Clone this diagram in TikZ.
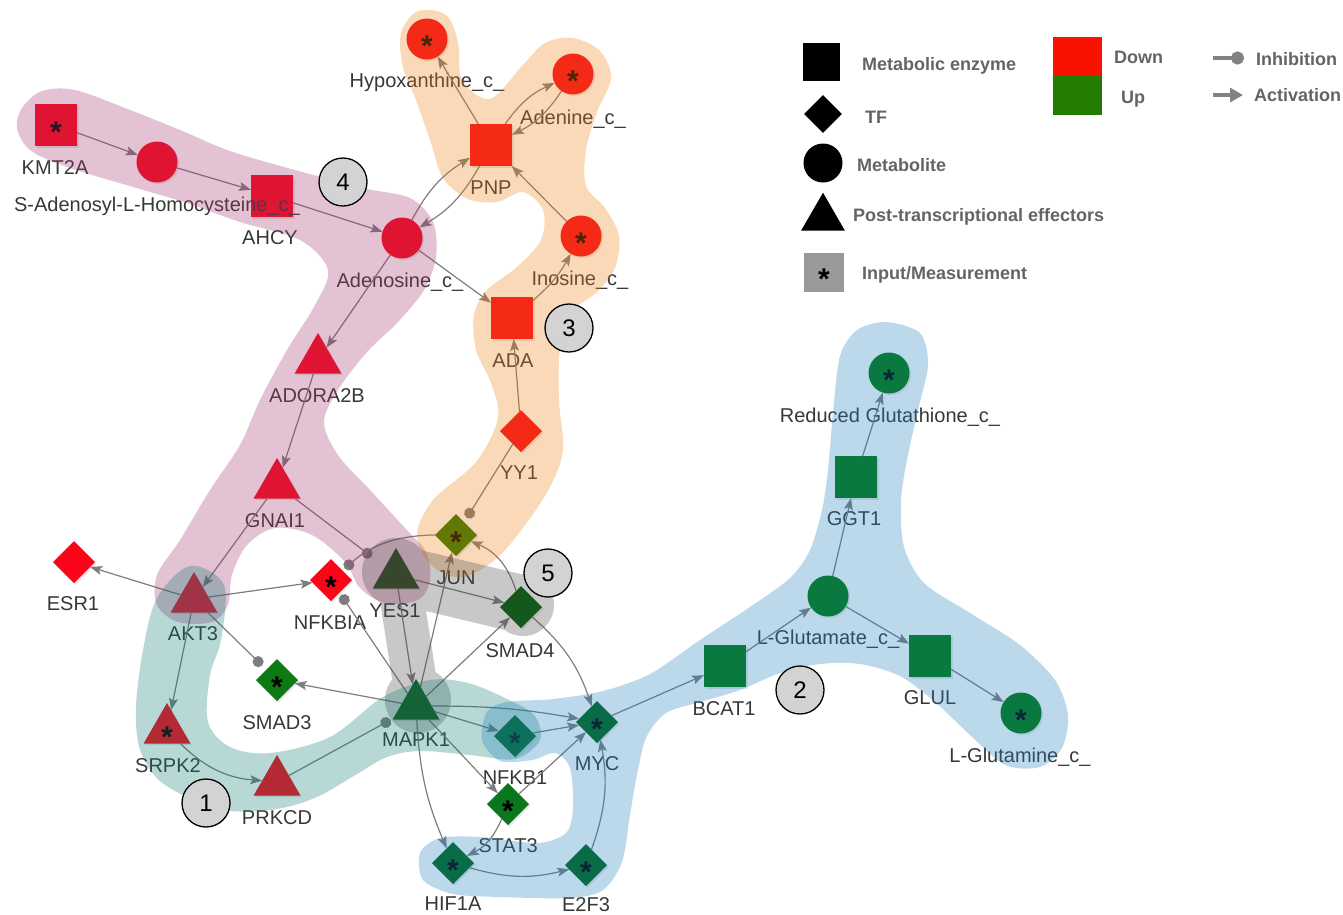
\documentclass[tikz,border=0pt]{standalone}
\usepackage{fontspec}
\setmainfont{Liberation Sans}
\usetikzlibrary{shapes.geometric,arrows.meta,shadows}
\definecolor{redP}{RGB}{250,5,25}
\definecolor{gJUN}{RGB}{40,120,0}
\definecolor{gSM3}{RGB}{15,122,20}
\definecolor{gSTAT}{RGB}{10,118,30}
\definecolor{gMYC}{RGB}{0,98,20}
\definecolor{gGLU}{RGB}{0,118,10}
\definecolor{gDark}{RGB}{0,95,10}
\definecolor{gYES}{RGB}{0,80,0}
\definecolor{lblgray}{RGB}{55,55,55}
\definecolor{edgegray}{RGB}{125,125,125}
\definecolor{numgray}{RGB}{211,211,211}
\definecolor{lggray}{RGB}{100,100,100}
\definecolor{lgarrow}{RGB}{130,130,130}
\definecolor{pinkC}{RGB}{161,52,108}
\definecolor{orangeC}{RGB}{235,128,18}
\definecolor{grayC}{RGB}{72,72,72}
\definecolor{tealC}{RGB}{15,125,115}
\definecolor{blueC}{RGB}{32,128,192}
\definecolor{legRed}{RGB}{250,18,0}
\definecolor{legGreen}{RGB}{34,125,0}
\definecolor{legGray}{RGB}{153,153,153}
\newcommand{\astmark}{{\fontsize{30}{30}\selectfont\bfseries\smash{\raisebox{-0.57em}{*}}}}
\begin{document}
\begin{tikzpicture}[x=1pt,y=-1pt,
  base/.style={draw=none, inner sep=0pt, outer sep=0pt, drop shadow={shadow xshift=1.5pt, shadow yshift=-1.5pt, opacity=0.2}},
  sq/.style={base, rectangle, minimum size=42pt},
  ci/.style={base, circle, minimum size=41pt},
  di/.style={base, diamond, minimum size=42pt},
  tri/.style={base, regular polygon, regular polygon sides=3, minimum size=54pt},
  lbl/.style={font=\fontsize{20}{22}\selectfont, text=lblgray, inner sep=0pt, text height=14pt, text depth=0pt},
  ed/.style={draw=edgegray, line width=1.2pt, -{Stealth[length=12pt,width=9pt,inset=2.5pt]}},
  inh/.style={draw=edgegray, line width=1.2pt, -{Circle[length=11pt]}, shorten >=3pt},
  hull/.style={line cap=round, line join=round, rounded corners=30pt},
  hullfill/.style={fill opacity=0.3, draw=none},
  num/.style={circle, draw=black, line width=1.3pt, fill=numgray, minimum size=48pt, inner sep=0pt, font=\fontsize{24}{24}\selectfont},
  lgtxt/.style={font=\fontsize{18}{20}\selectfont\bfseries, text=lggray, inner sep=0pt, text height=13pt, text depth=0pt, anchor=west},
]
\useasboundingbox (0,0) rectangle (1343,914);

% ---------- nodes ----------
\node[sq, fill=redP] (kmt) at (56,125) {\astmark};
\node[ci, fill=redP] (sah) at (157,162) {};
\node[sq, fill=redP] (ahcy) at (272,196) {};
\node[ci, fill=redP] (ado) at (402,238) {};
\node[ci, fill=redP] (hyp) at (427,39) {\astmark};
\node[ci, fill=redP] (aden) at (573,74) {\astmark};
\node[sq, fill=redP] (pnp) at (491,145) {};
\node[ci, fill=redP] (ino) at (581,236) {\astmark};
\node[sq, fill=redP] (ada) at (512,318) {};
\node[tri, fill=redP] (adora) at (318,360) {};
\node[di, fill=redP] (yy1) at (521,431) {};
\node[tri, fill=redP] (gnai) at (277,485) {};
\node[di, fill=gJUN] (jun) at (456,535) {\astmark};
\node[di, fill=redP] (esr) at (74,562) {};
\node[tri, fill=redP] (akt) at (194,599) {};
\node[di, fill=redP] (nfkbia) at (331,580) {\astmark};
\node[tri, fill=gYES] (yes) at (396,575) {};
\node[di, fill=gDark] (smad4) at (521,607) {};
\node[di, fill=gSM3] (smad3) at (277,680) {\astmark};
\node[tri, fill=gDark] (mapk) at (416,706) {};
\node[tri, fill=redP] (srpk) at (167,730) {\astmark};
\node[tri, fill=redP] (prkcd) at (277,782) {};
\node[di, fill=gMYC] (nfkb1) at (515,736) {\astmark};
\node[di, fill=gMYC] (myc) at (597,722) {\astmark};
\node[di, fill=gSTAT] (stat3) at (508,804) {\astmark};
\node[di, fill=gMYC] (hif) at (453,863) {\astmark};
\node[di, fill=gMYC] (e2f3) at (586,865) {\astmark};
\node[sq, fill=gGLU] (bcat) at (725,666) {};
\node[ci, fill=gGLU] (glu) at (828,596) {};
\node[sq, fill=gGLU] (ggt) at (856,477) {};
\node[ci, fill=gGLU] (rg) at (889,373) {\astmark};
\node[sq, fill=gGLU] (glul) at (930,656) {};
\node[ci, fill=gGLU] (gln) at (1021,713) {\astmark};

% ---------- labels ----------
\node[lbl] (kmt-l) at (55,167) {KMT2A};
\node[lbl] (sah-l) at (157,204) {S-Adenosyl-L-Homocysteine\_c\_};
\node[lbl] (ahcy-l) at (270,237) {AHCY};
\node[lbl] (ado-l) at (400,280) {Adenosine\_c\_};
\node[lbl] (hyp-l) at (427,80) {Hypoxanthine\_c\_};
\node[lbl] (aden-l) at (573,117) {Adenine\_c\_};
\node[lbl] (pnp-l) at (491,187) {PNP};
\node[lbl] (ino-l) at (580,278) {Inosine\_c\_};
\node[lbl] (ada-l) at (513,360) {ADA};
\node[lbl] (adora-l) at (317,395) {ADORA2B};
\node[lbl] (yy1-l) at (519,472) {YY1};
\node[lbl] (gnai-l) at (275,520) {GNAI1};
\node[lbl] (jun-l) at (456,577) {JUN};
\node[lbl] (esr-l) at (73,603) {ESR1};
\node[lbl] (akt-l) at (193,633) {AKT3};
\node[lbl] (nfkbia-l) at (330,622) {NFKBIA};
\node[lbl] (yes-l) at (395,610) {YES1};
\node[lbl] (smad4-l) at (520,650) {SMAD4};
\node[lbl] (smad3-l) at (277,722) {SMAD3};
\node[lbl] (mapk-l) at (416,739) {MAPK1};
\node[lbl] (srpk-l) at (168,765) {SRPK2};
\node[lbl] (prkcd-l) at (277,817) {PRKCD};
\node[lbl] (nfkb1-l) at (515,777) {NFKB1};
\node[lbl] (myc-l) at (597,763) {MYC};
\node[lbl] (stat3-l) at (508,845) {STAT3};
\node[lbl] (hif-l) at (453,903) {HIF1A};
\node[lbl] (e2f3-l) at (586,904) {E2F3};
\node[lbl] (bcat-l) at (724,708) {BCAT1};
\node[lbl] (glu-l) at (828,637) {L-Glutamate\_c\_};
\node[lbl] (ggt-l) at (854,518) {GGT1};
\node[lbl] (rg-l) at (890,415) {Reduced Glutathione\_c\_};
\node[lbl] (glul-l) at (930,697) {GLUL};
\node[lbl] (gln-l) at (1020,755) {L-Glutamine\_c\_};

% ---------- edges ----------
\draw[ed] (kmt) -- (sah);
\draw[ed] (sah) -- (ahcy);
\draw[ed] (ahcy) -- (ado);
\draw[ed] (ado) to[bend left=15] (pnp);
\draw[ed] (pnp) to[bend left=15] (ado);
\draw[ed] (pnp) -- (hyp);
\draw[ed] (pnp) to[bend left=15] (aden);
\draw[ed] (aden) to[bend left=15] (pnp);
\draw[ed] (ino) -- (pnp);
\draw[ed] (ado) -- (ada);
\draw[ed] (ada) to[bend right=10] (ino);
\draw[ed] (yy1) -- (ada);
\draw[inh, shorten >=5pt] (yy1) -- (jun);
\draw[ed] (ado) -- (adora);
\draw[ed] (adora) -- (gnai);
\draw[ed] (gnai) -- (akt);
\draw[inh, shorten >=17pt] (gnai) -- (yes);
\draw[inh] (jun) to[bend right=20] (nfkbia);
\draw[inh] (mapk) -- (nfkbia);
\draw[ed] (akt) -- (esr);
\draw[ed] (akt) -- (nfkbia);
\draw[ed] (akt) -- (srpk);
\draw[inh, shorten >=6pt] (akt) -- (smad3);
\draw[ed] (srpk) to[bend right=20] (prkcd);
\draw[inh] (prkcd) -- (mapk);
\draw[ed] (yes) -- (mapk);
\draw[ed] (yes) -- (smad4);
\draw[ed] (mapk) -- (jun);
\draw[ed] (mapk) -- (smad4);
\draw[ed] (mapk) -- (smad3);
\draw[ed] (mapk) to[bend left=5] (myc);
\draw[ed] (mapk) -- (nfkb1);
\draw[ed] (mapk) -- (stat3);
\draw[ed] (mapk) to[bend right=10] (hif);
\draw[ed] (smad4) to[bend right=25] (jun);
\draw[ed] (smad4) to[bend left=15] (myc);
\draw[ed] (nfkb1) -- (myc);
\draw[ed] (stat3) -- (myc);
\draw[ed] (stat3) to[bend left=20] (hif);
\draw[ed] (hif) to[bend right=15] (e2f3);
\draw[ed] (e2f3) to[bend right=15] (myc);
\draw[ed] (myc) -- (bcat);
\draw[ed] (bcat) -- (glu);
\draw[ed] (glu) -- (ggt);
\draw[ed] (ggt) -- (rg);
\draw[ed] (glu) -- (glul);
\draw[ed] (glul) -- (gln);

% ---------- module hulls ----------
% module 4 (pink)
\fill[hullfill, pinkC] plot[smooth cycle, tension=0.55] coordinates {
  (22,108) (42,91) (75,90) (125,108) (180,130) (233,152) (317,176) (367,189)
  (410,198) (433,222) (436,257) (424,290) (398,322) (367,352) (338,390)
  (324,422) (338,455) (370,490) (405,528) (426,552) (430,580) (418,600)
  (385,603) (360,588) (345,562) (312,535) (275,528) (247,545) (232,575)
  (228,605) (212,622) (178,622) (157,605) (157,575) (180,540) (210,490)
  (240,445) (260,400) (287,350) (315,305) (328,270) (300,240) (240,222)
  (187,203) (133,187) (67,167) (30,150) (17,128)};
% module 3 (orange)
\fill[hullfill, orangeC] plot[smooth cycle, tension=0.55] coordinates {
  (418,11) (446,15) (458,42) (462,80) (490,99) (522,66) (545,43) (573,38)
  (600,51) (611,78) (597,112) (586,150) (586,186) (605,208) (619,236)
  (615,268) (597,292) (572,312) (560,350) (559,400) (563,450) (550,487)
  (525,525) (497,558) (463,577) (432,566) (417,535) (433,500) (476,462)
  (498,418) (491,383) (476,350) (474,315) (487,290) (517,267) (541,240)
  (543,210) (523,192) (497,202) (468,199) (443,178) (430,140) (416,100)
  (403,67) (401,33)};
% module 5 (gray)
\begin{scope}[transparency group, opacity=0.3]
  \draw[hull, draw=grayC, line width=58pt] (396,574) -- (521,604);
  \draw[hull, draw=grayC, line width=44pt] (398,574) -- (418,702);
  \fill[grayC] (396,572) circle (34pt);
  \fill[grayC] (523,605) circle (31pt);
  \fill[grayC] (418,700) circle (33pt);
\end{scope}
% module 1 (teal)
\fill[hullfill, tealC] plot[smooth cycle, tension=0.55] coordinates {
  (224,585) (221,640) (210,675) (208,722) (230,747) (270,753) (330,737)
  (383,697) (430,680) (468,683) (505,698) (534,715) (540,740) (515,759)
  (470,755) (420,751) (387,757) (357,774) (317,797) (277,809) (230,811)
  (196,801) (160,781) (140,750) (136,707) (143,650) (157,598) (190,566)};
% module 2 (blue)
\fill[hullfill, blueC] plot[smooth cycle, tension=0.5] coordinates {
  (886,322) (920,333) (928,365) (918,410) (908,455) (901,500) (904,547)
  (924,583) (970,613) (1020,645) (1055,680) (1068,715) (1062,748)
  (1040,767) (1005,765) (970,735) (935,702) (900,676) (860,664) (820,664)
  (780,673) (740,690) (700,702) (666,713) (646,738) (636,780) (630,815)
  (622,862) (603,890) (570,898) (500,897) (453,894) (423,880) (420,853)
  (440,838) (480,837) (537,843) (566,833) (573,808) (570,768) (555,753)
  (532,760) (500,761) (482,740) (487,712) (507,702) (553,699) (603,691)
  (650,674) (700,640) (750,607) (790,578) (810,550) (822,510) (828,470)
  (833,413) (840,356) (857,330)};

% ---------- module numbers ----------
\node[num] (n4) at (343,182) {4};
\node[num] (n3) at (569,328) {3};
\node[num] (n5) at (548,573) {5};
\node[num] (n2) at (800,690) {2};
\node[num] (n1) at (206,803) {1};

% ---------- legend ----------
\node[rectangle, fill=black, minimum width=37pt, minimum height=38pt, inner sep=0pt] (lg-enz) at (821,62) {};
\node[lgtxt] (lg-enz-t) at (862,64) {Metabolic enzyme};
\node[diamond, fill=black, minimum size=38pt, inner sep=0pt] (lg-tf) at (823,114) {};
\node[lgtxt] (lg-tf-t) at (865,117) {TF};
\node[circle, fill=black, minimum size=39pt, inner sep=0pt] (lg-met) at (823,163) {};
\node[lgtxt] (lg-met-t) at (857,165) {Metabolite};
\node[regular polygon, regular polygon sides=3, fill=black, minimum size=50.6pt, inner sep=0pt] (lg-pte) at (823,218) {};
\node[lgtxt] (lg-pte-t) at (853,215) {Post-transcriptional effectors};
\node[rectangle, fill=legGray, minimum width=40pt, minimum height=39pt, inner sep=0pt] (lg-inp) at (824,272) {\astmark};
\node[lgtxt] (lg-inp-t) at (862,273) {Input/Measurement};
\node[rectangle, fill=legRed, minimum width=49pt, minimum height=39pt, inner sep=0pt] (lg-down) at (1077.5,56.5) {};
\node[rectangle, fill=legGreen, minimum width=49pt, minimum height=39pt, inner sep=0pt] (lg-up) at (1077.5,95.5) {};
\node[lgtxt] (lg-down-t) at (1114,57) {Down};
\node[lgtxt] (lg-up-t) at (1121,97) {Up};
\coordinate (lg-inh-a) at (1213,58);
\coordinate (lg-inh-b) at (1244,58);
\draw[draw=lgarrow, line width=4.5pt, -{Circle[length=13pt]}] (lg-inh-a) -- (lg-inh-b);
\node[lgtxt] (lg-inh-t) at (1256,59) {Inhibition};
\coordinate (lg-act-a) at (1213,95);
\coordinate (lg-act-b) at (1243,95);
\draw[draw=lgarrow, line width=4.5pt, -{Triangle[length=13pt,width=14pt]}] (lg-act-a) -- (lg-act-b);
\node[lgtxt] (lg-act-t) at (1254,95) {Activation};
\end{tikzpicture}
\end{document}
